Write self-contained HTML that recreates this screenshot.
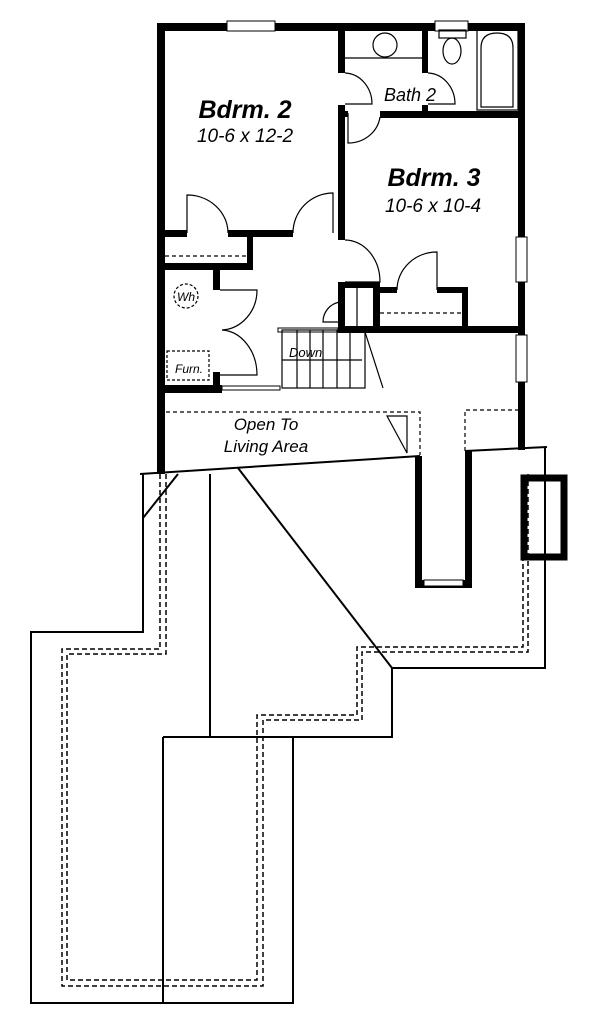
<!DOCTYPE html>
<html><head><meta charset="utf-8"><style>
html,body{margin:0;padding:0;background:#fff;width:600px;height:1024px;overflow:hidden}
svg{display:block}
text{font-family:"Liberation Sans",sans-serif;font-style:italic;fill:#000}
</style></head><body>
<svg width="600" height="1024" viewBox="0 0 600 1024" xmlns="http://www.w3.org/2000/svg">
<g fill="#000" stroke="none">
<rect x="157" y="23" width="368" height="8"/>
<rect x="157" y="23" width="8" height="451"/>
<rect x="518" y="23" width="7" height="427"/>
<rect x="338" y="30" width="7" height="43"/>
<rect x="338" y="105" width="7" height="135"/>
<rect x="338" y="282" width="7" height="48"/>
<rect x="422" y="30" width="6" height="43"/>
<rect x="422" y="105" width="6" height="10"/>
<rect x="380" y="111" width="145" height="7"/>
<rect x="338" y="111" width="10" height="6"/>
<rect x="164" y="230" width="23" height="7"/>
<rect x="228" y="230" width="65" height="7"/>
<rect x="247" y="230" width="6" height="40"/>
<rect x="164" y="263" width="89" height="7"/>
<rect x="213" y="270" width="7" height="20"/>
<rect x="213" y="372" width="7" height="20"/>
<rect x="159" y="385" width="63" height="8"/>
<rect x="338" y="326" width="187" height="7"/>
<rect x="338" y="282" width="42" height="6"/>
<rect x="373" y="287" width="7" height="43"/>
<rect x="373" y="287" width="24" height="6"/>
<rect x="437" y="287" width="31" height="6"/>
<rect x="462" y="287" width="6" height="43"/>
<rect x="415" y="456" width="7" height="132"/>
<rect x="465" y="451" width="7" height="137"/>
<rect x="415" y="580" width="57" height="8"/>
</g>
<g fill="#fff" stroke="#000" stroke-width="1">
<rect x="227" y="21" width="48" height="10"/>
<rect x="435" y="21" width="33" height="10"/>
<rect x="516" y="237" width="11" height="45"/>
<rect x="516" y="335" width="11" height="47"/>
<rect x="424" y="580" width="39" height="6"/>
<rect x="222" y="386" width="58" height="4"/>
<rect x="278" y="328" width="60" height="4"/>
</g>
<g fill="none" stroke="#000" stroke-width="1.2">
<circle cx="385" cy="45" r="12"/>
<line x1="345" y1="58" x2="422" y2="58"/>
<rect x="439" y="30" width="27" height="8"/>
<ellipse cx="452" cy="51" rx="9" ry="13"/>
<rect x="477" y="30" width="41" height="80"/>
<path d="M481 107 V48 Q481 33 497 33 Q513 33 513 48 V107 Z"/>
<path d="M345 73 A28 31 0 0 1 372 104 H345"/>
<path d="M428 73 A28 31 0 0 1 455 104 H428"/>
<path d="M348 113 V143 A32 30 0 0 0 380 117"/>
<path d="M187 233 V195 A41 38 0 0 1 228 233"/>
<path d="M333 233 V193 A40 40 0 0 0 293 233"/>
<path d="M345 240 A35 42 0 0 1 380 282 H345"/>
<path d="M437 290 V252 A40 38 0 0 0 397 290"/>
<path d="M220 290 H257 A37 40 0 0 1 222 330 A37 45 0 0 1 257 375 H220"/>
<path d="M340 302 A20 20 0 0 0 323 322 H340"/>
<line x1="357" y1="288" x2="357" y2="328"/>
<line x1="165" y1="256" x2="247" y2="256" stroke-dasharray="4 3"/>
<line x1="380" y1="313" x2="462" y2="313" stroke-dasharray="4 3"/>
<rect x="282" y="330" width="83" height="58"/>
<line x1="297" y1="330" x2="297" y2="388"/><line x1="310" y1="330" x2="310" y2="388"/>
<line x1="323" y1="330" x2="323" y2="388"/><line x1="337" y1="330" x2="337" y2="388"/>
<line x1="350" y1="333" x2="350" y2="388"/><line x1="282" y1="360" x2="362" y2="360"/>
<line x1="365" y1="332" x2="383" y2="388"/>
<circle cx="186" cy="296" r="12" stroke-dasharray="3 2"/>
<rect x="167" y="351" width="42" height="29" stroke-dasharray="3 2"/>
<path d="M166 412 H420 V455" stroke-dasharray="4 3"/>
<path d="M465 451 V410 H520" stroke-dasharray="4 3"/>
<path d="M387 416 H407 V453 Z"/>
<path d="M140 474 L420 456" stroke-width="2"/>
<path d="M465 451 L547 447" stroke-width="2"/>
<path d="M143 474 V632 H31 V1003 H293 V737" stroke-width="2"/>
<path d="M163 737 V1003" stroke-width="2"/>
<path d="M163 737 H392 V668 H545 V447" stroke-width="2"/>
<path d="M210 474 V737" stroke-width="2"/>
<path d="M238 468 L392 668" stroke-width="2"/>
<path d="M178 474 L143 518" stroke-width="2"/>
<g stroke-dasharray="5 3" stroke-width="1.5">
<path d="M160 474 V649 H62 V986 H263 V720 H362 V652 H528 V474"/>
<path d="M166 474 V654 H67 V980 H257 V715 H357 V647 H523 V474"/>
</g>
</g>
<rect x="524" y="478" width="40" height="79" fill="none" stroke="#000" stroke-width="7"/>
<text x="245" y="118" font-size="25" font-weight="bold" text-anchor="middle">Bdrm. 2</text>
<text x="245" y="142" font-size="19" text-anchor="middle">10-6 x 12-2</text>
<text x="410" y="101" font-size="18" text-anchor="middle">Bath 2</text>
<text x="434" y="186" font-size="25" font-weight="bold" text-anchor="middle">Bdrm. 3</text>
<text x="433" y="212" font-size="19" text-anchor="middle">10-6 x 10-4</text>
<text x="289" y="357" font-size="13">Down</text>
<text x="175" y="373" font-size="12">Furn.</text>
<text x="177" y="301" font-size="12">Wh</text>
<text x="266" y="430" font-size="17" text-anchor="middle">Open To</text>
<text x="266" y="452" font-size="17" text-anchor="middle">Living Area</text>
</svg>
</body></html>
